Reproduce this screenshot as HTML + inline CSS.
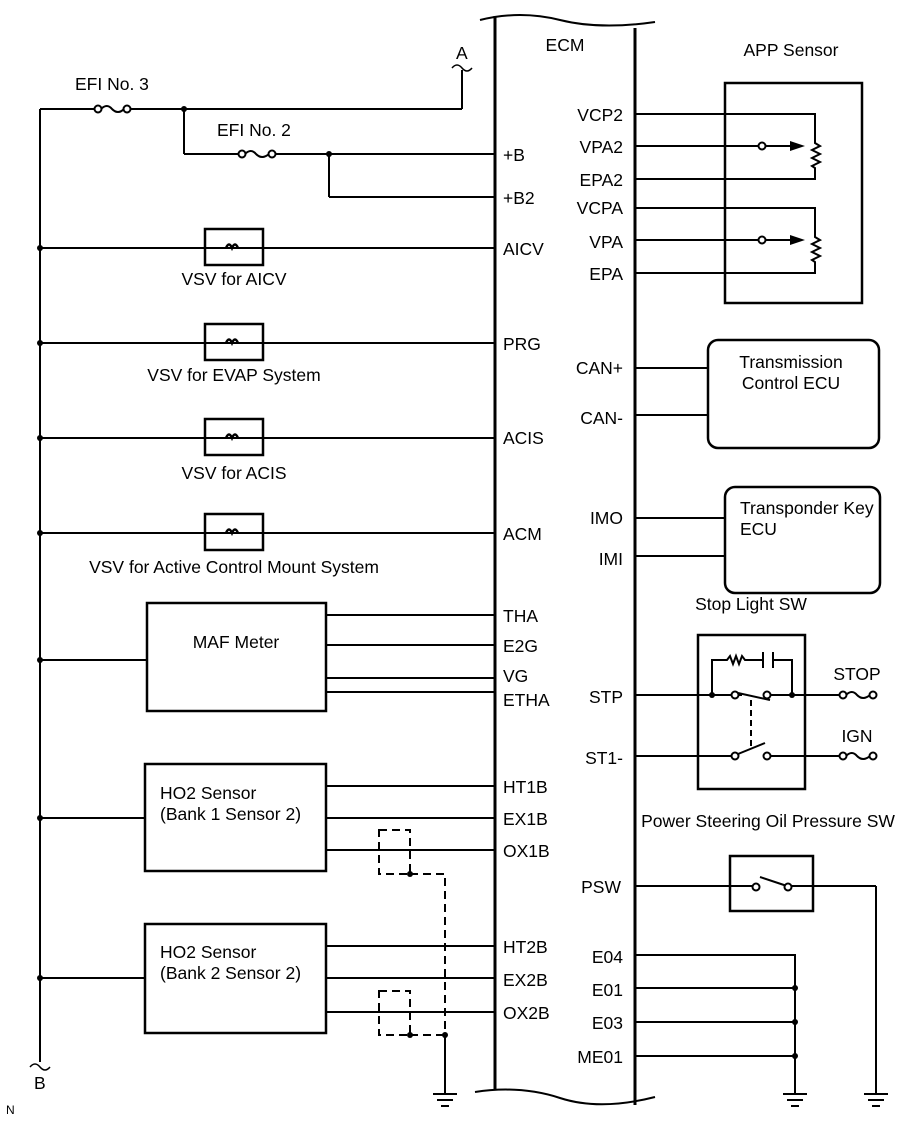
<!DOCTYPE html>
<html><head><meta charset="utf-8"><style>
body{margin:0;background:#fff}
svg{display:block}
text{font-family:"Liberation Sans",sans-serif;font-size:17.5px;fill:#000}
</style></head><body>
<svg width="907" height="1122" viewBox="0 0 907 1122" xmlns="http://www.w3.org/2000/svg">
<g stroke="#000" stroke-width="2" fill="none">
<path d="M480 20 Q520 10 560 20 T655 22" stroke-width="2"/>
<line x1="495" y1="16" x2="495" y2="1090" stroke-width="3"/>
<line x1="635" y1="28" x2="635" y2="1105" stroke-width="3"/>
<path d="M475 1092 Q520 1085 560 1098 T655 1097" stroke-width="2"/>
<line x1="40" y1="109" x2="40" y2="1062"/>
<path d="M30 1067 q5 -6 10 0 q5 6 10 0" stroke-width="1.5"/>
<line x1="40" y1="109" x2="94" y2="109"/>
<line x1="131" y1="109" x2="462" y2="109"/>
<line x1="462" y1="109" x2="462" y2="70"/>
<path d="M452 68 q5 -6 10 0 q5 6 10 0" stroke-width="1.5"/>
<line x1="184" y1="109" x2="184" y2="154"/>
<line x1="184" y1="154" x2="238" y2="154"/>
<line x1="276" y1="154" x2="495" y2="154"/>
<line x1="329" y1="154" x2="329" y2="197"/>
<line x1="329" y1="197" x2="495" y2="197"/>
<line x1="40" y1="248" x2="495" y2="248"/>
<rect x="205" y="229" width="58" height="36" stroke-width="2.5"/>
<line x1="40" y1="343" x2="495" y2="343"/>
<rect x="205" y="324" width="58" height="36" stroke-width="2.5"/>
<line x1="40" y1="438" x2="495" y2="438"/>
<rect x="205" y="419" width="58" height="36" stroke-width="2.5"/>
<line x1="40" y1="533" x2="495" y2="533"/>
<rect x="205" y="514" width="58" height="36" stroke-width="2.5"/>
<rect x="147" y="603" width="179" height="108" stroke-width="2.5"/>
<line x1="40" y1="660" x2="147" y2="660"/>
<line x1="326" y1="615" x2="495" y2="615"/>
<line x1="326" y1="645" x2="495" y2="645"/>
<line x1="326" y1="678" x2="495" y2="678"/>
<line x1="326" y1="692" x2="495" y2="692"/>
<rect x="145" y="764" width="181" height="107" stroke-width="2.5"/>
<line x1="40" y1="818" x2="145" y2="818"/>
<line x1="326" y1="786" x2="495" y2="786"/>
<line x1="326" y1="818" x2="495" y2="818"/>
<line x1="326" y1="850" x2="495" y2="850"/>
<rect x="145" y="924" width="181" height="109" stroke-width="2.5"/>
<line x1="40" y1="978" x2="145" y2="978"/>
<line x1="326" y1="946" x2="495" y2="946"/>
<line x1="326" y1="978" x2="495" y2="978"/>
<line x1="326" y1="1012" x2="495" y2="1012"/>
<g stroke-dasharray="8,5">
<rect x="379" y="830" width="31" height="44"/>
<path d="M410 874 H445 V1035"/>
<rect x="379" y="991" width="31" height="44"/>
<line x1="410" y1="1035" x2="445" y2="1035"/>
</g>
<line x1="445" y1="1035" x2="445" y2="1093"/>
<rect x="725" y="83" width="137" height="220" stroke-width="2.5"/>
<path d="M635 114 H815 V143 l5 3 -8 4 8 4 -8 4 8 4 -8 4 3 2 V179 H635"/>
<line x1="635" y1="146" x2="759" y2="146"/>
<line x1="766" y1="146" x2="790" y2="146"/>
<path d="M635 208 H815 V237 l5 3 -8 4 8 4 -8 4 8 4 -8 4 3 2 V273 H635"/>
<line x1="635" y1="240" x2="759" y2="240"/>
<line x1="766" y1="240" x2="790" y2="240"/>
<circle cx="762" cy="146" r="3.5" fill="#fff"/>
<circle cx="762" cy="240" r="3.5" fill="#fff"/>
<rect x="708" y="340" width="171" height="108" rx="10" stroke-width="2.5"/>
<line x1="635" y1="368" x2="708" y2="368"/>
<line x1="635" y1="415" x2="708" y2="415"/>
<rect x="725" y="487" width="155" height="106" rx="10" stroke-width="2.5"/>
<line x1="635" y1="518" x2="725" y2="518"/>
<line x1="635" y1="556" x2="725" y2="556"/>
<rect x="698" y="635" width="107" height="154" stroke-width="2.5"/>
<line x1="635" y1="695" x2="732" y2="695"/>
<line x1="738" y1="695" x2="742" y2="695"/>
<line x1="770" y1="695" x2="840" y2="695"/>
<path d="M712 695 V660 H727 l3 -4 3 8 3 -8 3 8 3 -8 3 4 H763 M763 652 V668 M773 652 V668 M773 660 H792 V695"/>
<line x1="738" y1="693" x2="770" y2="700"/>
<line x1="751" y1="700" x2="751" y2="750" stroke-dasharray="6,4"/>
<line x1="635" y1="756" x2="732" y2="756"/>
<line x1="770" y1="756" x2="840" y2="756"/>
<line x1="738" y1="754" x2="765" y2="743"/>
<circle cx="735" cy="695" r="3.5" fill="#fff"/>
<circle cx="767" cy="695" r="3.5" fill="#fff"/>
<circle cx="735" cy="756" r="3.5" fill="#fff"/>
<circle cx="767" cy="756" r="3.5" fill="#fff"/>
<rect x="730" y="856" width="83" height="55" stroke-width="2.5"/>
<line x1="635" y1="886" x2="756" y2="886"/>
<line x1="791" y1="886" x2="876" y2="886"/>
<line x1="876" y1="886" x2="876" y2="1093"/>
<line x1="760" y1="877" x2="787" y2="886"/>
<circle cx="756" cy="887" r="3.5" fill="#fff"/>
<circle cx="788" cy="887" r="3.5" fill="#fff"/>
<path d="M635 955 H795 V1093 M635 988 H795 M635 1022 H795 M635 1056 H795"/>
<g stroke-width="2">
<path d="M433 1094 H457 M437 1100 H453 M441 1106 H449"/>
<path d="M783 1094 H807 M787 1100 H803 M791 1106 H799"/>
<path d="M864 1094 H888 M868 1100 H884 M872 1106 H880"/>
</g>
<g>
<circle cx="98" cy="109" r="3.5" fill="#fff"/><circle cx="127" cy="109" r="3.5" fill="#fff"/><path d="M101 109 q6 -6 11 0 q6 6 12 0"/>
<circle cx="242" cy="154" r="3.5" fill="#fff"/><circle cx="272" cy="154" r="3.5" fill="#fff"/><path d="M245 154 q6 -6 11 0 q6 6 13 0"/>
<circle cx="843" cy="695" r="3.5" fill="#fff"/><circle cx="873" cy="695" r="3.5" fill="#fff"/><path d="M846 695 q6 -6 11 0 q6 6 13 0"/>
<circle cx="843" cy="756" r="3.5" fill="#fff"/><circle cx="873" cy="756" r="3.5" fill="#fff"/><path d="M846 756 q6 -6 11 0 q6 6 13 0"/>
</g>
</g>
<g stroke="#000" stroke-width="2.5" fill="none">
<path d="M226 248 q3 -7 6 0 q3 -7 6 0"/>
<path d="M226 343 q3 -7 6 0 q3 -7 6 0"/>
<path d="M226 438 q3 -7 6 0 q3 -7 6 0"/>
<path d="M226 533 q3 -7 6 0 q3 -7 6 0"/>
</g>
<polygon points="790,141 805,146 790,151" fill="#000"/>
<polygon points="790,235 805,240 790,245" fill="#000"/>
<g fill="#000">
<circle cx="184" cy="109" r="3"/><circle cx="329" cy="154" r="3"/>
<circle cx="40" cy="248" r="3"/><circle cx="40" cy="343" r="3"/><circle cx="40" cy="438" r="3"/><circle cx="40" cy="533" r="3"/>
<circle cx="40" cy="660" r="3"/><circle cx="40" cy="818" r="3"/><circle cx="40" cy="978" r="3"/>
<circle cx="410" cy="874" r="3"/><circle cx="410" cy="1035" r="3"/><circle cx="445" cy="1035" r="3"/>
<circle cx="712" cy="695" r="3"/><circle cx="792" cy="695" r="3"/>
<circle cx="795" cy="988" r="3"/><circle cx="795" cy="1022" r="3"/><circle cx="795" cy="1056" r="3"/>
</g>
<text x="456" y="59">A</text>
<text x="34" y="1089">B</text>
<text x="6" y="1114" style="font-size:12px">N</text>
<text x="75" y="90">EFI No. 3</text>
<text x="217" y="136">EFI No. 2</text>
<text x="234" y="285" text-anchor="middle">VSV for AICV</text>
<text x="234" y="381" text-anchor="middle">VSV for EVAP System</text>
<text x="234" y="479" text-anchor="middle">VSV for ACIS</text>
<text x="234" y="573" text-anchor="middle">VSV for Active Control Mount System</text>
<text x="236" y="648" text-anchor="middle">MAF Meter</text>
<text x="160" y="799">HO2 Sensor</text>
<text x="160" y="820">(Bank 1 Sensor 2)</text>
<text x="160" y="958">HO2 Sensor</text>
<text x="160" y="979">(Bank 2 Sensor 2)</text>
<text x="565" y="51" text-anchor="middle">ECM</text>
<g>
<text x="503" y="161">+B</text><text x="503" y="204">+B2</text>
<text x="503" y="255">AICV</text><text x="503" y="350">PRG</text>
<text x="503" y="444">ACIS</text><text x="503" y="540">ACM</text>
<text x="503" y="622">THA</text><text x="503" y="652">E2G</text>
<text x="503" y="682">VG</text><text x="503" y="706">ETHA</text>
<text x="503" y="793">HT1B</text><text x="503" y="825">EX1B</text>
<text x="503" y="857">OX1B</text><text x="503" y="953">HT2B</text>
<text x="503" y="986">EX2B</text><text x="503" y="1019">OX2B</text>
</g>
<g text-anchor="end">
<text x="623" y="121">VCP2</text><text x="623" y="153">VPA2</text>
<text x="623" y="186">EPA2</text><text x="623" y="214">VCPA</text>
<text x="623" y="248">VPA</text><text x="623" y="280">EPA</text>
<text x="623" y="374">CAN+</text><text x="623" y="424">CAN-</text>
<text x="623" y="524">IMO</text><text x="623" y="565">IMI</text>
<text x="623" y="703">STP</text><text x="623" y="764">ST1-</text>
<text x="621" y="893">PSW</text><text x="623" y="963">E04</text>
<text x="623" y="996">E01</text><text x="623" y="1029">E03</text>
<text x="623" y="1063">ME01</text>
</g>
<text x="791" y="56" text-anchor="middle">APP Sensor</text>
<text x="791" y="368" text-anchor="middle">Transmission</text>
<text x="791" y="389" text-anchor="middle">Control ECU</text>
<text x="740" y="514">Transponder Key</text>
<text x="740" y="535">ECU</text>
<text x="751" y="610" text-anchor="middle">Stop Light SW</text>
<text x="857" y="680" text-anchor="middle">STOP</text>
<text x="857" y="742" text-anchor="middle">IGN</text>
<text x="768" y="827" text-anchor="middle">Power Steering Oil Pressure SW</text>
</svg>
</body></html>
